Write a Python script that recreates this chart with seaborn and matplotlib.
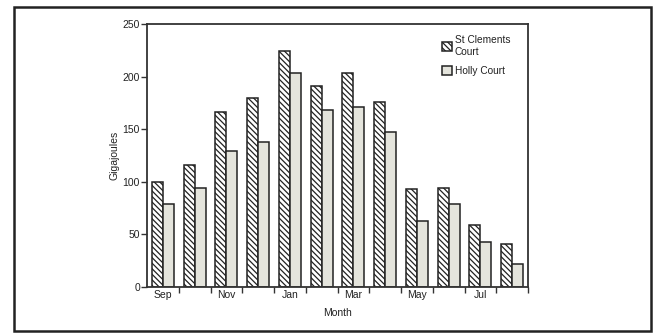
import numpy as np
import pandas as pd
import matplotlib
matplotlib.use("Agg")
import matplotlib.pyplot as plt
import seaborn as sns
from matplotlib.patches import Patch
from matplotlib.ticker import FixedLocator

months = ["Sep", "Oct", "Nov", "Dec", "Jan", "Feb", "Mar", "Apr", "May", "Jun", "Jul", "Aug"]
tick_labels = ["Sep", "", "Nov", "", "Jan", "", "Mar", "", "May", "", "Jul", ""]
series_names = ["St Clements Court", "Holly Court"]
st_clements = [100, 116, 166, 180, 224, 191, 203, 176, 93, 94, 59, 41]
holly = [79, 94, 129, 138, 203, 168, 171, 147, 63, 79, 43, 22]
y_ticks = [0, 50, 100, 150, 200, 250]

df = pd.DataFrame({
    "Month": months * 2,
    "Series": [series_names[0]] * len(months) + [series_names[1]] * len(months),
    "Gigajoules": st_clements + holly,
})

sns.set_theme(style="ticks")
plt.rcParams["font.family"] = ["Liberation Sans", "DejaVu Sans"]
plt.rcParams["hatch.linewidth"] = 0.9

fig = plt.figure(figsize=(6.54, 3.33), dpi=100)
ax = fig.add_axes([147 / 654, 1 - 287 / 333, (528 - 147) / 654, (287 - 24) / 333])

fill_holly = "#e4e4dc"
hatch = "\\" * 6
sns.barplot(data=df, x="Month", y="Gigajoules", hue="Series", order=months,
            hue_order=series_names,
            palette={series_names[0]: "white", series_names[1]: fill_holly},
            width=0.7, edgecolor="#222222", linewidth=1.1, saturation=1,
            ax=ax, legend=False)

for bar in ax.containers[0]:
    bar.set_hatch(hatch)

ax.set_xlim(-0.5, 11.5)
ax.set_ylim(0, 250)
ax.set_yticks(y_ticks)
ax.set_yticklabels([str(v) for v in y_ticks], fontsize=7.5, color="#222222")
ax.set_xticks(range(len(months)))
ax.set_xticklabels(tick_labels, fontsize=7.5, color="#222222")
ax.tick_params(axis="x", which="major", length=0, pad=2)
ax.xaxis.set_minor_locator(FixedLocator(np.arange(0.5, 11.6, 1.0)))
ax.tick_params(axis="x", which="minor", length=4, width=1, direction="out", color="#333333")
ax.tick_params(axis="y", length=4, width=1, color="#333333", pad=1)

for s in ax.spines.values():
    s.set_visible(True)
    s.set_linewidth(1.3)
    s.set_color("#333333")

ax.set_xlabel("Month", fontsize=7.5, color="#222222", labelpad=6)
ax.set_ylabel("Gigajoules", fontsize=7.5, color="#222222", labelpad=2)

handles = [
    Patch(facecolor="white", edgecolor="#222222", hatch=hatch, linewidth=1.1),
    Patch(facecolor=fill_holly, edgecolor="#222222", linewidth=1.1),
]
leg = ax.legend(handles, ["St Clements\nCourt", "Holly Court"], loc="upper left",
                bbox_to_anchor=(0.755, 0.985), frameon=False, fontsize=7.3,
                handlelength=1.0, handleheight=1.0, handletextpad=0.3,
                labelspacing=0.9, borderpad=0.2)
for t in leg.get_texts():
    t.set_color("#222222")

# outer frame around the figure
frame = plt.Rectangle((14 / 654, 2 / 333), (651 - 14) / 654, (326 - 2) / 333,
                      transform=fig.transFigure, fill=False,
                      edgecolor="#222222", linewidth=1.8)
fig.add_artist(frame)

fig.savefig("out.png", dpi=100)
